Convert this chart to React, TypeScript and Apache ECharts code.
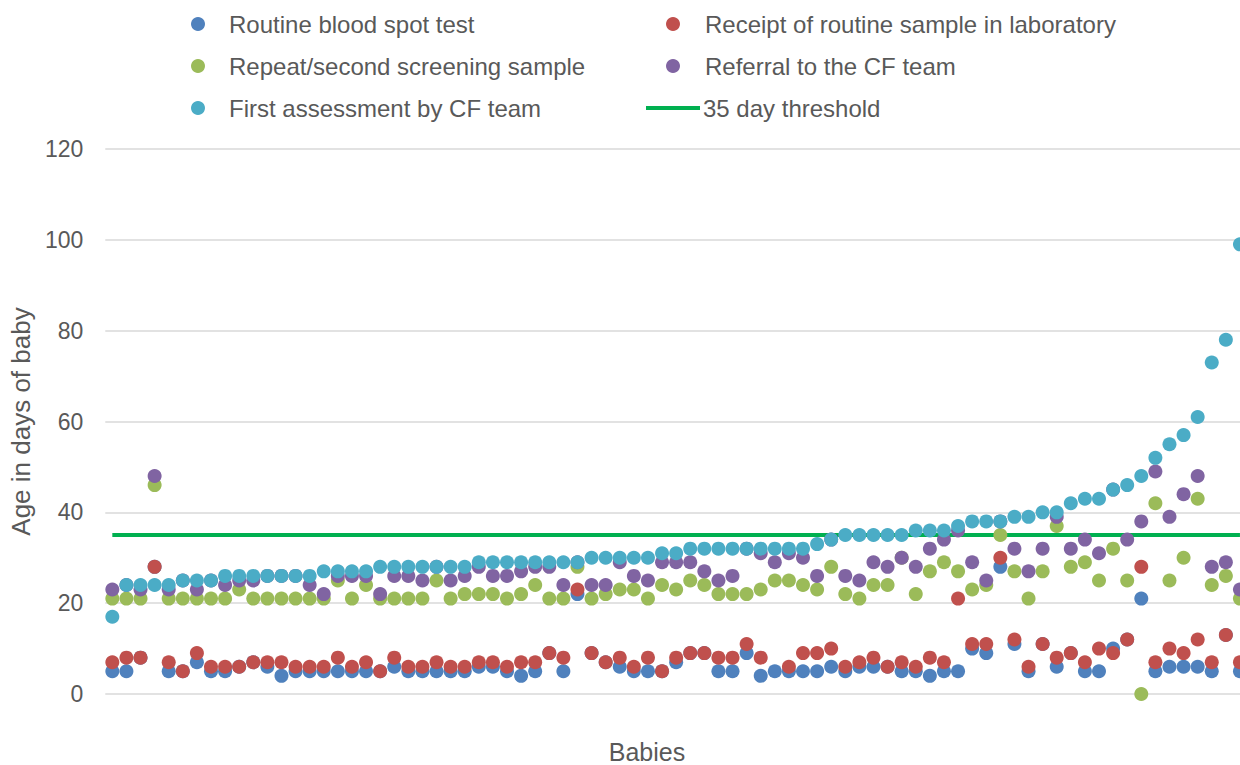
import React, { useEffect, useRef } from "react";
import * as echarts from "echarts";

const babies: string[] = Array.from({ length: 81 }, (_, i) => String(i + 1));

const routineBloodSpot: (number | null)[] = [
  5, 5, 8, 28, 5, 5, 7, 5, 5, 6, 7, 6, 4, 5, 5, 5, 5, 5, 5, 5,
  6, 5, 5, 5, 5, 5, 6, 6, 5, 4, 5, 9, 5, 22, 9, 7, 6, 5, 5, 5,
  7, 9, 9, 5, 5, 9, 4, 5, 5, 5, 5, 6, 5, 6, 6, 6, 5, 5, 4, 5,
  5, 10, 9, 28, 11, 5, 11, 6, 9, 5, 5, 10, 12, 21, 5, 6, 6, 6, 5, 13,
  5,
];

const receiptInLab: (number | null)[] = [
  7, 8, 8, 28, 7, 5, 9, 6, 6, 6, 7, 7, 7, 6, 6, 6, 8, 6, 7, 5,
  8, 6, 6, 7, 6, 6, 7, 7, 6, 7, 7, 9, 8, 23, 9, 7, 8, 6, 8, 5,
  8, 9, 9, 8, 8, 11, 8, null, 6, 9, 9, 10, 6, 7, 8, 6, 7, 6, 8, 7,
  21, 11, 11, 30, 12, 6, 11, 8, 9, 7, 10, 9, 12, 28, 7, 10, 9, 12, 7, 13,
  7,
];

const repeatSample: (number | null)[] = [
  21, 21, 21, 46, 21, 21, 21, 21, 21, 23, 21, 21, 21, 21, 21, 21, 25, 21, 24, 21,
  21, 21, 21, 25, 21, 22, 22, 22, 21, 22, 24, 21, 21, 28, 21, 22, 23, 23, 21, 24,
  23, 25, 24, 22, 22, 22, 23, 25, 25, 24, 23, 28, 22, 21, 24, 24, 30, 22, 27, 29,
  27, 23, 24, 35, 27, 21, 27, 37, 28, 29, 25, 32, 25, 0, 42, 25, 30, 43, 24, 26,
  21,
];

const referralToCF: (number | null)[] = [
  23, 24, 23, 48, 23, 25, 23, 25, 24, 25, 25, 26, 26, 26, 24, 22, 26, 26, 26, 22,
  26, 26, 25, 28, 25, 26, 28, 26, 26, 27, 28, 28, 24, 29, 24, 24, 29, 26, 25, 29,
  29, 29, 27, 25, 26, 32, 31, 29, 31, 30, 26, 34, 26, 25, 29, 28, 30, 28, 32, 34,
  36, 29, 25, 38, 32, 27, 32, 39, 32, 34, 31, 45, 34, 38, 49, 39, 44, 48, 28, 29,
  23,
];

const firstAssessment: (number | null)[] = [
  17, 24, 24, 24, 24, 25, 25, 25, 26, 26, 26, 26, 26, 26, 26, 27, 27, 27, 27, 28,
  28, 28, 28, 28, 28, 28, 29, 29, 29, 29, 29, 29, 29, 29, 30, 30, 30, 30, 30, 31,
  31, 32, 32, 32, 32, 32, 32, 32, 32, 32, 33, 34, 35, 35, 35, 35, 35, 36, 36, 36,
  37, 38, 38, 38, 39, 39, 40, 40, 42, 43, 43, 45, 46, 48, 52, 55, 57, 61, 73, 78,
  99,
];

const thresholdDays = 35;
const yTicks = { min: 0, max: 120, interval: 20 };

const seriesNames = [
  "Routine blood spot test",
  "Receipt of routine sample in laboratory",
  "Repeat/second screening sample",
  "Referral to the CF team",
  "First assessment by CF team",
  "35 day threshold",
];

const colors = ["#4F81BD", "#C0504D", "#9BBB59", "#8064A2", "#4BACC6", "#00B050"];

const FONT = "'Liberation Sans', Arial, sans-serif";
const TEXT_COLOR = "#595959";

export default function App() {
  const ref = useRef<HTMLDivElement>(null);

  useEffect(() => {
    if (!ref.current) return;
    const chart = echarts.init(ref.current, undefined, { renderer: "svg" });
    const dataSets = [routineBloodSpot, receiptInLab, repeatSample, referralToCF, firstAssessment];

    const legendItems: any[] = [];
    const rowY = [24, 66, 108];
    const cols = [
      { cx: 198, tx: 229 },
      { cx: 673, tx: 705 },
    ];
    seriesNames.forEach((name, si) => {
      const row = Math.floor(si / 2);
      const col = cols[si % 2];
      const y = rowY[row];
      if (si === 5) {
        legendItems.push({
          type: "line",
          shape: { x1: 646, y1: y, x2: 700, y2: y },
          style: { stroke: colors[5], lineWidth: 4 },
        });
        legendItems.push({
          type: "text",
          x: 703,
          y,
          style: { text: name, fill: TEXT_COLOR, font: `24px ${FONT}`, verticalAlign: "middle", align: "left" },
        });
      } else {
        legendItems.push({
          type: "circle",
          shape: { cx: col.cx, cy: y, r: 7 },
          style: { fill: colors[si] },
        });
        legendItems.push({
          type: "text",
          x: col.tx,
          y,
          style: { text: name, fill: TEXT_COLOR, font: `24px ${FONT}`, verticalAlign: "middle", align: "left" },
        });
      }
    });

    chart.setOption({
      animation: false,
      textStyle: { fontFamily: FONT },
      grid: { left: 105, top: 149, bottom: 71, right: 13, containLabel: false },
      xAxis: {
        type: "category",
        data: babies,
        boundaryGap: true,
        axisLine: { show: false },
        axisTick: { show: false },
        axisLabel: { show: false },
        splitLine: { show: false },
      },
      yAxis: {
        type: "value",
        min: yTicks.min,
        max: yTicks.max,
        interval: yTicks.interval,
        name: "Age in days of baby",
        nameLocation: "middle",
        nameGap: 70,
        nameTextStyle: { color: TEXT_COLOR, fontSize: 26, fontFamily: FONT },
        axisLine: { show: false },
        axisTick: { show: false },
        axisLabel: { color: TEXT_COLOR, fontSize: 23, margin: 22, fontFamily: FONT },
        splitLine: { lineStyle: { color: "#D9D9D9", width: 1.5 } },
      },
      graphic: [
        ...legendItems,
        {
          type: "text",
          x: 647,
          y: 752,
          style: { text: "Babies", fill: TEXT_COLOR, font: `25px ${FONT}`, align: "center", verticalAlign: "middle" },
        },
      ],
      series: [
        {
          name: seriesNames[5],
          type: "line",
          data: babies.map(() => thresholdDays),
          symbol: "none",
          lineStyle: { color: colors[5], width: 4 },
          z: 1,
        },
        ...dataSets.map((d, i) => ({
          name: seriesNames[i],
          type: "scatter",
          data: d,
          symbol: "circle",
          symbolSize: 14,
          itemStyle: { color: colors[i], opacity: 1 },
          clip: false,
          z: 2,
        })),
      ],
    });
    return () => chart.dispose();
  }, []);

  return (
    <div style={{ position: "fixed", left: 0, top: 0, width: 1240, height: 765, overflow: "hidden", background: "#fff" }}>
      <div ref={ref} style={{ width: 1260, height: 765 }} />
    </div>
  );
}
